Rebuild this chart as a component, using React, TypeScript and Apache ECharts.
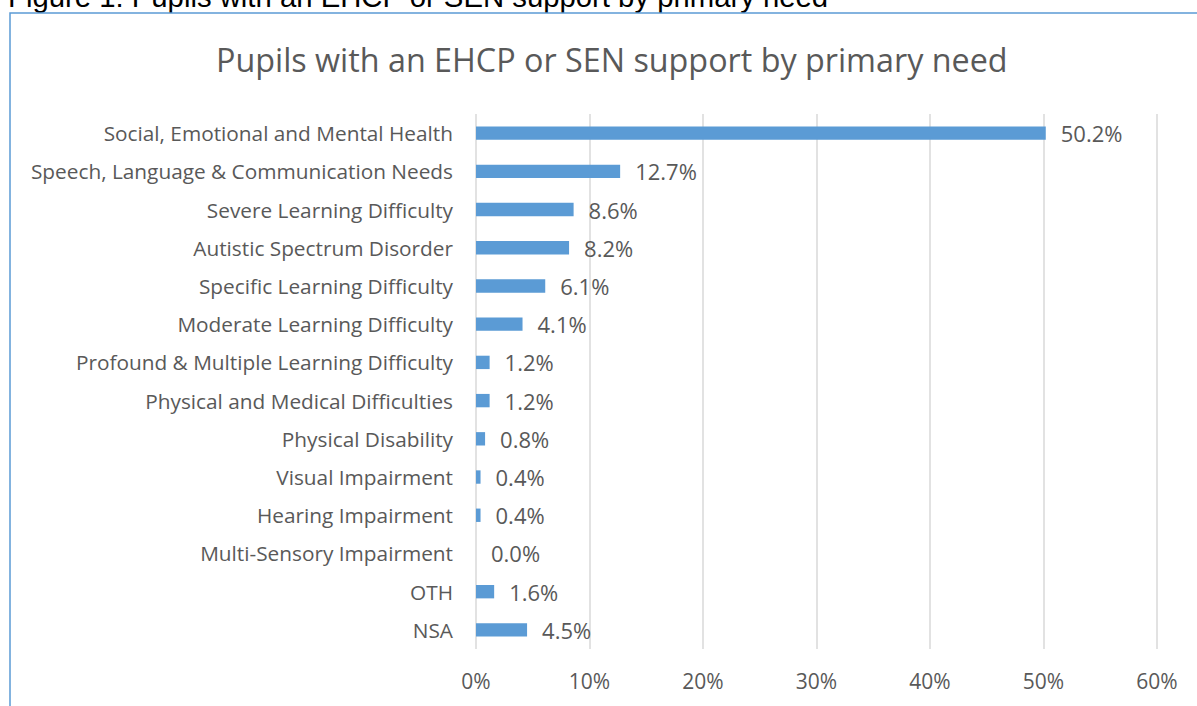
import React, { useEffect, useRef } from "react";
import * as echarts from "echarts";

const categories = [
  "Social, Emotional and Mental Health",
  "Speech, Language & Communication Needs",
  "Severe Learning Difficulty",
  "Autistic Spectrum Disorder",
  "Specific Learning Difficulty",
  "Moderate Learning Difficulty",
  "Profound & Multiple Learning Difficulty",
  "Physical and Medical Difficulties",
  "Physical Disability",
  "Visual Impairment",
  "Hearing Impairment",
  "Multi-Sensory Impairment",
  "OTH",
  "NSA",
];
const values = [50.2, 12.7, 8.6, 8.2, 6.1, 4.1, 1.2, 1.2, 0.8, 0.4, 0.4, 0.0, 1.6, 4.5];
const xMin = 0;
const xMax = 60;
const xInterval = 10;
const titleText = "Pupils with an EHCP or SEN support by primary need";
const captionText = "Figure 1: Pupils with an EHCP or SEN support by primary need";

const FONT = "'Open Sans', sans-serif";
const GREY = "#595959";

export default function App() {
  const ref = useRef<HTMLDivElement>(null);
  useEffect(() => {
    if (!ref.current) return;
    const chart = echarts.init(ref.current, null, { renderer: "svg" });
    chart.setOption({
      animation: false,
      backgroundColor: "#ffffff",
      title: {
        text: titleText,
        left: 216,
        top: 43,
        padding: 0,
        textStyle: { fontFamily: FONT, fontSize: 32.3, fontWeight: "normal", color: GREY },
      },
      graphic: [
        {
          type: "text",
          left: 8,
          top: -18,
          style: {
            text: captionText,
            fontFamily: "'Liberation Sans', Arial, sans-serif",
            fontSize: 29.3,
            fill: "#000000",
          },
        },
        {
          type: "rect",
          shape: { x: 10, y: 13, width: 1400, height: 900 },
          style: { fill: "none", stroke: "#5b9bd5", lineWidth: 1.5 },
        },
      ],
      grid: { left: 476, right: 40, top: 114, bottom: 57, containLabel: false },
      xAxis: {
        type: "value",
        min: xMin,
        max: xMax,
        interval: xInterval,
        axisLine: { show: false },
        axisTick: { show: false },
        axisLabel: {
          formatter: "{value}%",
          fontFamily: FONT,
          fontSize: 21,
          color: GREY,
          margin: 21,
        },
        splitLine: { show: true, lineStyle: { color: "#d9d9d9", width: 1.5 } },
      },
      yAxis: {
        type: "category",
        data: categories,
        inverse: true,
        axisLine: { show: false },
        axisTick: { show: false },
        axisLabel: { fontFamily: FONT, fontSize: 20.8, color: GREY, margin: 23 },
      },
      series: [
        {
          type: "bar",
          data: values,
          barCategoryGap: "65%",
          itemStyle: { color: "#5b9bd5" },
          label: {
            show: true,
            position: "right",
            distance: 15,
            fontFamily: FONT,
            fontSize: 22,
            color: GREY,
            formatter: (p: any) => Number(p.value).toFixed(1) + "%",
          },
        },
      ],
    });
    return () => chart.dispose();
  }, []);
  return (
    <div
      ref={ref}
      style={{ position: "absolute", left: 0, top: 0, width: 1197, height: 706 }}
    />
  );
}
